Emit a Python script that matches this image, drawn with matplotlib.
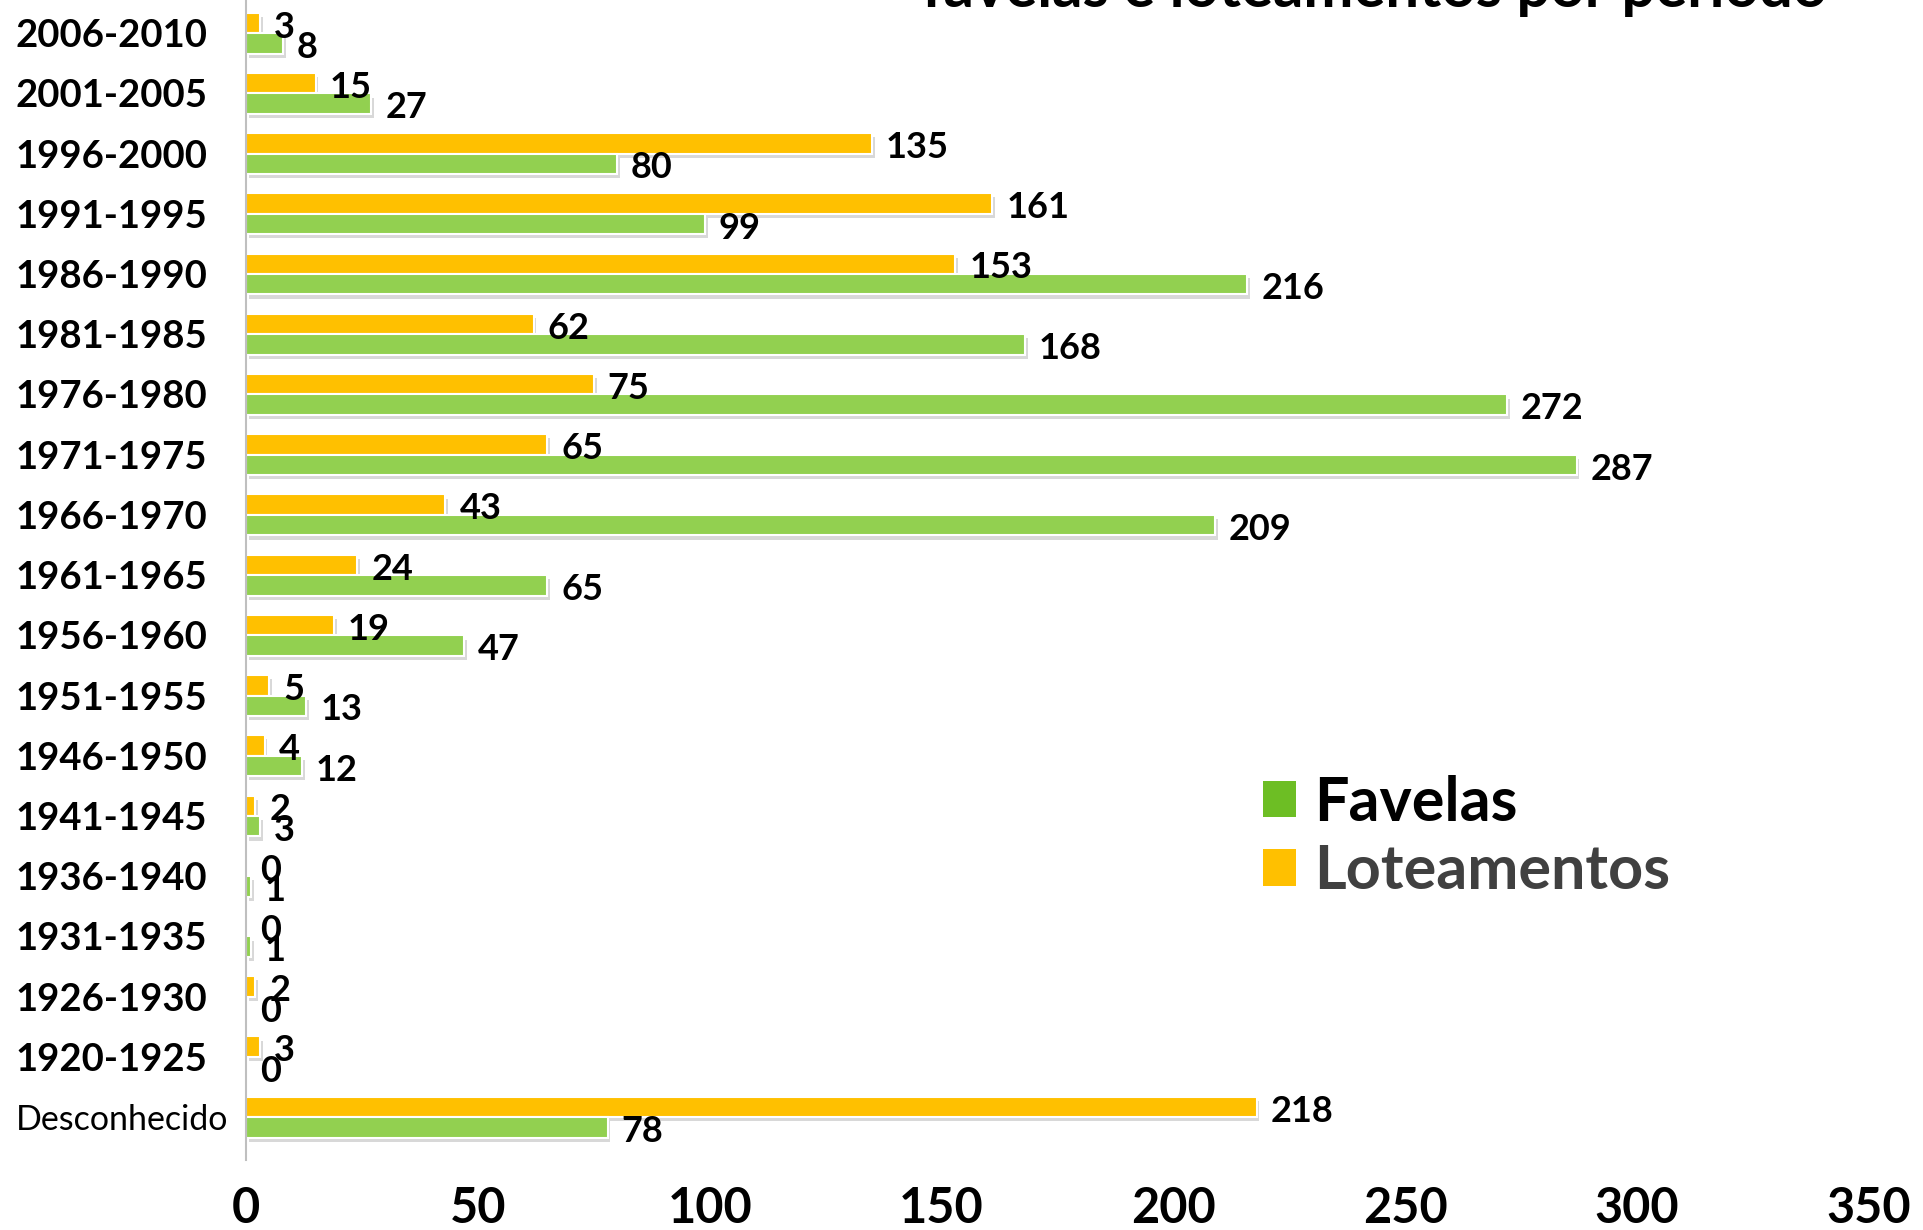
import numpy as np
import matplotlib
matplotlib.use('Agg')
import matplotlib.pyplot as plt
from matplotlib.patches import Patch
import matplotlib.patheffects as pe

plt.rcParams['font.family'] = ['Lato', 'DejaVu Sans']

periodos = ['2006-2010', '2001-2005', '1996-2000', '1991-1995', '1986-1990',
            '1981-1985', '1976-1980', '1971-1975', '1966-1970', '1961-1965',
            '1956-1960', '1951-1955', '1946-1950', '1941-1945', '1936-1940',
            '1931-1935', '1926-1930', '1920-1925', 'Desconhecido']
loteamentos = [3, 15, 135, 161, 153, 62, 75, 65, 43, 24, 19, 5, 4, 2, 0, 0, 2, 3, 218]
favelas = [8, 27, 80, 99, 216, 168, 272, 287, 209, 65, 47, 13, 12, 3, 1, 1, 0, 0, 78]
x_ticks = [0, 50, 100, 150, 200, 250, 300, 350]

cor_lot = '#FFC000'
cor_fav = '#92D050'

fig = plt.figure(figsize=(19.23, 12.30), dpi=100)
ax = fig.add_axes([0.128, 0.057, 0.8437, 0.943])

y = np.arange(len(periodos))
h = 0.34
sombra = [pe.SimplePatchShadow(offset=(2, -3), shadow_rgbFace='#c8c8c8', alpha=0.7), pe.Normal()]
b1 = ax.barh(y - h / 2, loteamentos, height=h, color=cor_lot, edgecolor='white', linewidth=1.5)
b2 = ax.barh(y + h / 2, favelas, height=h, color=cor_fav, edgecolor='white', linewidth=1.5)
for b in list(b1) + list(b2):
    b.set_path_effects(sombra)

for i in range(len(periodos)):
    ax.annotate(str(loteamentos[i]), (loteamentos[i], y[i] - h / 2), xytext=(10, -3),
                textcoords='offset points', va='center', ha='left',
                fontsize=26, fontweight='bold', color='black')
    ax.annotate(str(favelas[i]), (favelas[i], y[i] + h / 2), xytext=(10, -3),
                textcoords='offset points', va='center', ha='left',
                fontsize=26, fontweight='bold', color='black')

ax.set_xlim(0, 350)
ax.set_ylim(18.71, -0.55)
ax.set_xticks(x_ticks)
ax.set_xticklabels([str(v) for v in x_ticks], fontsize=35, fontweight='bold')
ax.set_yticks(y)
ax.set_yticklabels(periodos)
for i, lab in enumerate(ax.get_yticklabels()):
    lab.set_horizontalalignment('left')
    if periodos[i] == 'Desconhecido':
        lab.set_fontsize(24.5)
        lab.set_fontweight('normal')
    else:
        lab.set_fontsize(27.5)
        lab.set_fontweight('bold')
ax.tick_params(axis='y', length=0, pad=166)
ax.tick_params(axis='x', length=0, pad=19)

for s in ['top', 'right', 'bottom']:
    ax.spines[s].set_visible(False)
ax.spines['left'].set_color('#bfbfbf')
ax.spines['left'].set_linewidth(1.5)

handles = [Patch(facecolor='#6DBE24', edgecolor='none'), Patch(facecolor=cor_lot, edgecolor='none')]
leg = fig.legend(handles, ['Favelas', 'Loteamentos'], loc='upper left',
                 bbox_to_anchor=(0.628, 0.415), frameon=False,
                 prop={'size': 44, 'weight': 'bold'}, handlelength=0.55, handleheight=0.55,
                 handletextpad=0.3, labelspacing=0.2)
leg.get_texts()[1].set_color('#404040')

fig.text(0.715, 0.994, 'favelas e loteamentos por período', ha='center', va='baseline',
         fontsize=43, fontweight='bold', color='black')

fig.savefig('out.png', dpi=100)
